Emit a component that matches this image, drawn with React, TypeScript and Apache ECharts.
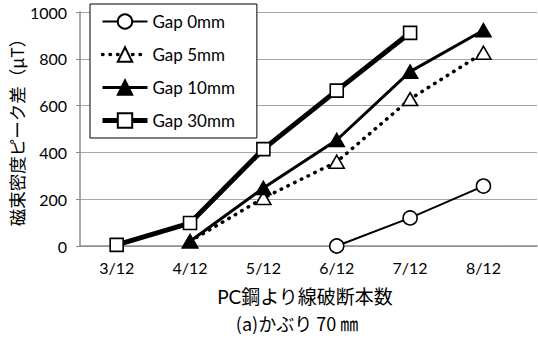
import React, { useEffect, useRef } from "react";
import * as echarts from "echarts";

// Broken strand count (out of 12)
const categories = ["3/12", "4/12", "5/12", "6/12", "7/12", "8/12"];

// Peak difference of magnetic flux density (μT) per gap
const gap0mm: (number | null)[] = [null, null, null, 0, 120, 256];
const gap5mm: (number | null)[] = [null, 20, 205, 360, 628, 826];
const gap10mm: (number | null)[] = [null, 20, 248, 453, 745, 922];
const gap30mm: (number | null)[] = [5, 98, 414, 664, 911, null];

const yTicks = [0, 200, 400, 600, 800, 1000];

const FONT = "Lato, 'Noto Sans CJK JP', sans-serif";
const CJK = "'Noto Sans CJK JP', sans-serif";

const toPairs = (vals: (number | null)[]) =>
  vals
    .map((v, i) => (v === null ? null : [i, v]))
    .filter((p) => p !== null) as number[][];

export default function App() {
  const ref = useRef<HTMLDivElement>(null);

  useEffect(() => {
    if (!ref.current) return;
    const chart = echarts.init(ref.current, undefined, { renderer: "svg" });

    const marker = (symbol: string, size: number | number[], fill: string) => ({
      symbol,
      symbolSize: size,
      showAllSymbol: true,
      itemStyle: { color: fill, borderColor: "#000", borderWidth: 1.6 },
    });

    const styles = {
      "Gap 0mm": { color: "#000", width: 2 },
      "Gap 5mm": { color: "#000", width: 3.5, type: [0.5, 7], cap: "round" },
      "Gap 10mm": { color: "#000", width: 3 },
      "Gap 30mm": { color: "#000", width: 5 },
    } as Record<string, any>;

    chart.setOption({
      animation: false,
      backgroundColor: "#fff",
      textStyle: { fontFamily: FONT },
      grid: { left: 80, right: 1, top: 12, bottom: 97 },
      legend: {
        orient: "vertical",
        left: 90,
        top: 4,
        padding: [9, 22, 9, 10],
        itemGap: 16,
        itemWidth: 45,
        itemHeight: 18,
        backgroundColor: "#fff",
        borderColor: "#000",
        borderWidth: 1,
        textStyle: { fontSize: 17, color: "#000", fontFamily: FONT },
        data: Object.keys(styles).map((name) => ({
          name,
          lineStyle: styles[name],
        })),
      },
      xAxis: {
        type: "value",
        min: -0.5,
        max: 5.73,
        splitLine: { show: false },
        axisLine: { show: true, onZero: false, lineStyle: { color: "#8c8c8c", width: 1.5 } },
        axisTick: { show: false },
        axisLabel: {
          customValues: categories.map((_, i) => i),
          formatter: (v: number) => categories[Math.round(v)] ?? "",
          fontSize: 16,
          color: "#000",
          margin: 13,
          fontFamily: FONT,
        },
      },
      yAxis: {
        type: "value",
        min: yTicks[0],
        max: yTicks[yTicks.length - 1],
        interval: 200,
        axisLine: { show: true, onZero: false, lineStyle: { color: "#8c8c8c", width: 1.5 } },
        axisTick: { show: true, length: 4, lineStyle: { color: "#8c8c8c" } },
        splitLine: { lineStyle: { color: "#a6a6a6", width: 1 } },
        axisLabel: {
          fontSize: 16,
          color: "#000",
          margin: 13,
          fontFamily: FONT,
          formatter: (v: number) => String(v),
        },
      },
      series: [
        {
          name: "Gap 0mm",
          type: "line",
          data: toPairs(gap0mm),
          lineStyle: styles["Gap 0mm"],
          ...marker("circle", 14, "#fff"),
          z: 2,
        },
        {
          name: "Gap 5mm",
          type: "line",
          data: toPairs(gap5mm),
          lineStyle: styles["Gap 5mm"],
          ...marker("triangle", [15, 13], "#fff"),
          z: 3,
        },
        {
          name: "Gap 10mm",
          type: "line",
          data: toPairs(gap10mm),
          lineStyle: styles["Gap 10mm"],
          ...marker("triangle", [15, 13], "#000"),
          z: 4,
        },
        {
          name: "Gap 30mm",
          type: "line",
          data: toPairs(gap30mm),
          lineStyle: styles["Gap 30mm"],
          ...marker("rect", 13, "#fff"),
          z: 5,
        },
      ],
      graphic: [
        {
          type: "text",
          x: 16,
          y: 128,
          rotation: Math.PI / 2,
          style: {
            text: "磁束密度ピーク差（μT）",
            fontSize: 17.5,
            fontFamily: CJK,
            fill: "#000",
            align: "center",
            verticalAlign: "middle",
          },
        },
        {
          type: "text",
          x: 305,
          y: 296,
          style: {
            text: "PC鋼より線破断本数",
            fontSize: 19,
            fontFamily: FONT,
            fill: "#000",
            align: "center",
            verticalAlign: "middle",
          },
        },
        {
          type: "text",
          x: 297,
          y: 323,
          style: {
            text: "(a)かぶり 70 ㎜",
            fontSize: 18,
            fontFamily: CJK,
            fill: "#000",
            align: "center",
            verticalAlign: "middle",
          },
        },
      ],
    });

    return () => chart.dispose();
  }, []);

  return (
    <div
      ref={ref}
      style={{ position: "absolute", left: 0, top: 0, width: 538, height: 343 }}
    />
  );
}
